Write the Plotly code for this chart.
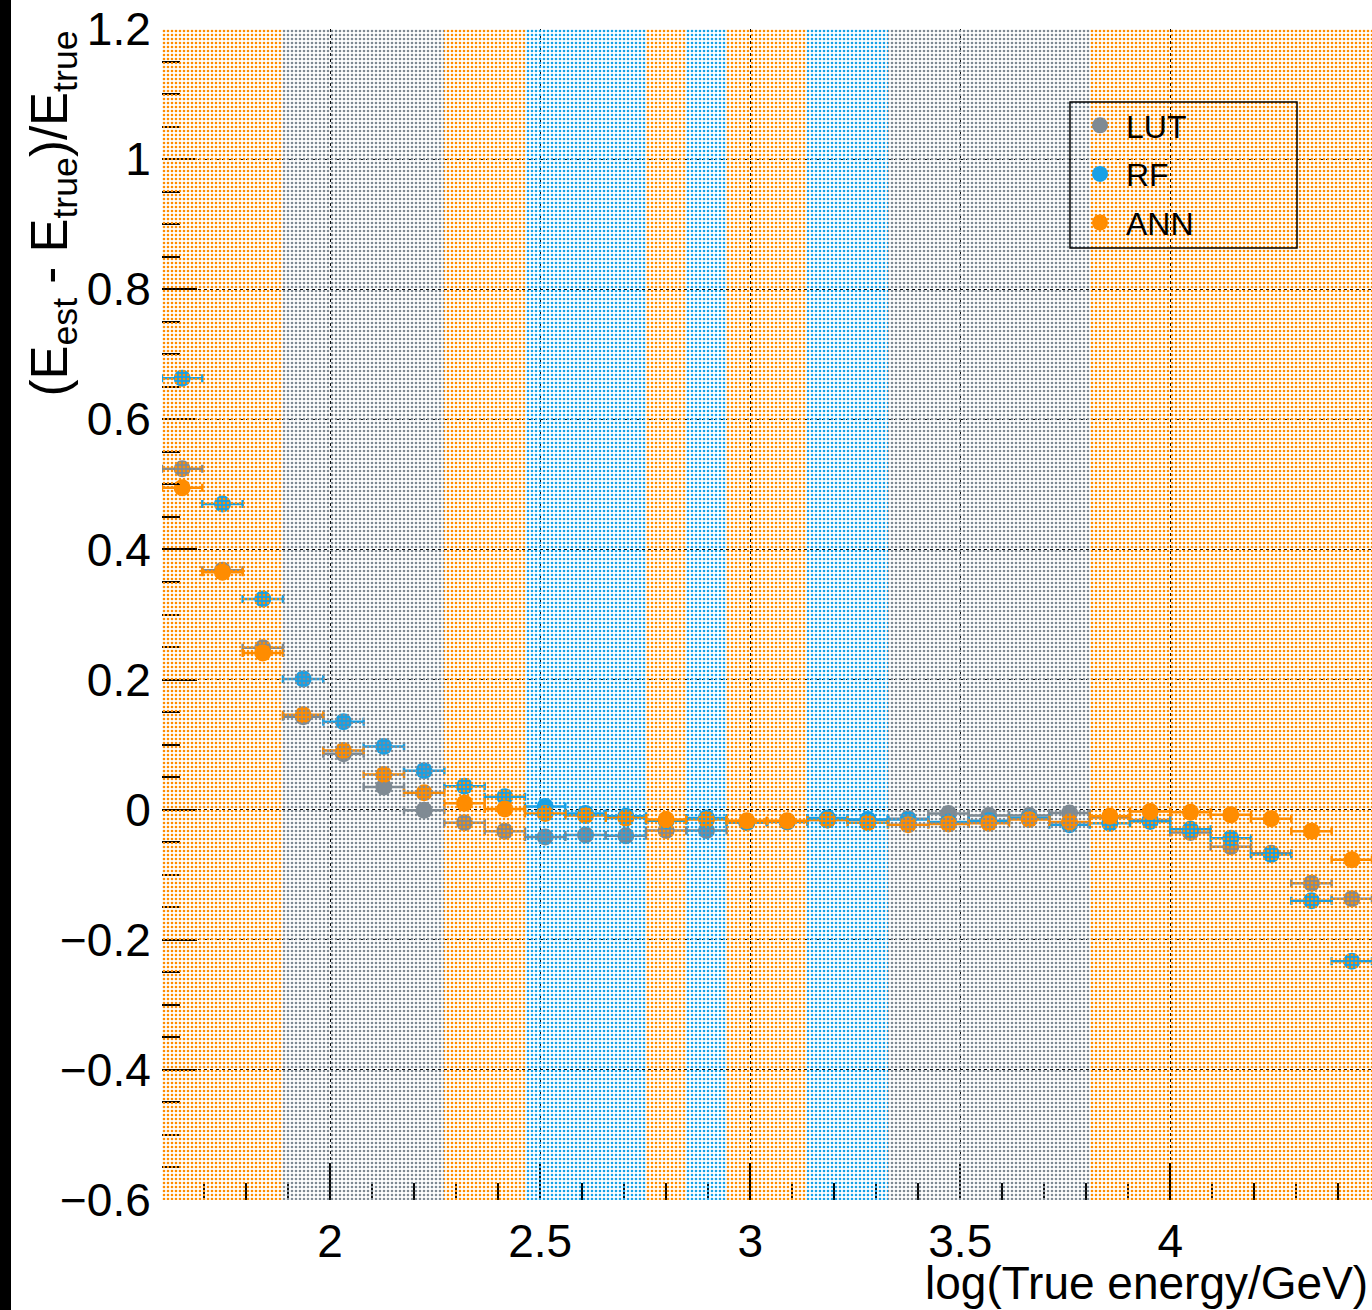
import plotly.graph_objects as go

# ---- data -------------------------------------------------------------
bin_centres = [1.648, 1.744, 1.840, 1.936, 2.032, 2.128, 2.224, 2.320, 2.416, 2.512,
               2.608, 2.704, 2.800, 2.896, 2.992, 3.088, 3.184, 3.280, 3.376, 3.472,
               3.568, 3.664, 3.760, 3.856, 3.952, 4.048, 4.144, 4.240, 4.336, 4.432]
bin_half_width = 0.048

lut = [0.524, 0.368, 0.249, 0.143, 0.086, 0.035, -0.001, -0.020, -0.033, -0.042,
       -0.039, -0.040, -0.032, -0.032, -0.020, -0.019, -0.016, -0.016, -0.014, -0.006,
       -0.009, -0.009, -0.005, -0.012, -0.016, -0.035, -0.057, -0.067, -0.113, -0.137]
rf = [0.663, 0.470, 0.324, 0.201, 0.135, 0.097, 0.060, 0.036, 0.020, 0.005,
      -0.006, -0.010, -0.017, -0.013, -0.019, -0.018, -0.013, -0.015, -0.015, -0.019,
      -0.017, -0.013, -0.023, -0.021, -0.018, -0.030, -0.044, -0.069, -0.140, -0.233]
ann = [0.495, 0.365, 0.241, 0.146, 0.091, 0.054, 0.026, 0.010, 0.001, -0.006,
       -0.009, -0.013, -0.015, -0.015, -0.017, -0.017, -0.016, -0.020, -0.023, -0.022,
       -0.021, -0.015, -0.019, -0.010, -0.003, -0.004, -0.008, -0.014, -0.033, -0.077]

# method shown as band colour in each bin
best_method = ["ANN", "ANN", "ANN", "LUT", "LUT", "LUT", "LUT", "ANN", "ANN", "RF",
               "RF", "RF", "ANN", "RF", "ANN", "ANN", "RF", "RF", "LUT", "LUT",
               "LUT", "LUT", "LUT", "ANN", "ANN", "ANN", "ANN", "ANN", "ANN", "ANN"]

series_names = ["LUT", "RF", "ANN"]
series_values = [lut, rf, ann]
colors = {"LUT": "#7f8a93", "RF": "#17a0e6", "ANN": "#ff8c00"}

x_range = [1.6, 4.48]
y_range = [-0.6, 1.2]

FONT = "Liberation Sans, Arial, Helvetica, sans-serif"

fig = go.Figure()

for name, vals in zip(series_names, series_values):
    fig.add_trace(go.Scatter(
        x=bin_centres, y=vals, mode="markers", name=name,
        legendgroup=name,
        marker=dict(color=colors[name], size=17, symbol="circle",
                    line=dict(width=0)),
        error_x=dict(type="constant", value=bin_half_width, color=colors[name],
                     thickness=2.5, width=4),
        zorder=0,
    ))

# dotted colour band overlay (drawn above markers)
fig.add_trace(go.Bar(
    x=bin_centres,
    y=[y_range[1] - y_range[0]] * len(bin_centres),
    base=y_range[0],
    width=bin_half_width * 2,
    marker=dict(
        color="rgba(0,0,0,0)",
        line=dict(width=0),
        pattern=dict(shape=".", fgcolor=[colors[m] for m in best_method],
                     bgcolor="rgba(0,0,0,0)", size=4, solidity=0.33,
                     fillmode="replace", fgopacity=1),
    ),
    showlegend=False, hoverinfo="skip", zorder=5,
))

fig.update_layout(
    width=1372, height=1310,
    margin=dict(l=162, r=0, t=29, b=110),
    paper_bgcolor="white", plot_bgcolor="white",
    font=dict(family=FONT, size=46, color="black"),
    bargap=0,
    showlegend=True,
    legend=dict(
        x=(1074 - 162) / 1210, y=(1200 - 98) / 1171,
        xanchor="left", yanchor="top",
        bgcolor="rgba(0,0,0,0)", borderwidth=0,
        font=dict(size=32, family=FONT),
        traceorder="grouped", tracegroupgap=4,
        itemwidth=42,
    ),
    xaxis=dict(
        range=x_range, tickmode="linear", tick0=0, dtick=0.5,
        ticks="inside", ticklen=37, tickwidth=1.5, tickcolor="black",
        minor=dict(ticks="inside", ticklen=17, dtick=0.1, tick0=0,
                   tickcolor="black", tickwidth=1.5, showgrid=False),
        showgrid=True, gridcolor="black", griddash="dot", gridwidth=1,
        showline=True, linecolor="black", linewidth=2, mirror=True,
        zeroline=False, tickfont=dict(size=46),
    ),
    yaxis=dict(
        range=[y_range[0] - 1e-6, y_range[1] + 1e-6], tickmode="linear",
        tick0=-0.6, dtick=0.2,
        ticks="inside", ticklen=35, tickwidth=1.5, tickcolor="black",
        minor=dict(ticks="inside", ticklen=18, dtick=0.05, tick0=0,
                   tickcolor="black", tickwidth=1.5, showgrid=False),
        showgrid=True, gridcolor="black", griddash="dot", gridwidth=1,
        showline=True, linecolor="black", linewidth=2,
        zeroline=False, tickfont=dict(size=46),
    ),
    shapes=[
        # black strip at left page edge
        dict(type="rect", xref="paper", yref="paper",
             x0=-162 / 1210, x1=(11 - 162) / 1210,
             y0=-110 / 1171, y1=1 + 29 / 1171,
             fillcolor="black", line=dict(width=0), layer="above"),
        # legend box
        dict(type="rect", xref="paper", yref="paper",
             x0=(1070 - 162) / 1210, x1=(1297 - 162) / 1210,
             y0=(1200 - 248) / 1171, y1=(1200 - 102) / 1171,
             fillcolor="rgba(0,0,0,0)", line=dict(color="black", width=1.5),
             layer="above"),
    ],
    annotations=[
        dict(text="(E<sub>est</sub> - E<sub>true</sub>)/E<sub>true</sub>",
             xref="paper", yref="paper",
             x=(18 - 162) / 1210, y=1.0, xanchor="left", yanchor="top",
             textangle=-90, showarrow=False, font=dict(size=51, family=FONT)),
        dict(text="log(True energy/GeV)", xref="paper", yref="paper",
             x=(1370 - 162) / 1210, y=-(1283 - 1200) / 1171,
             xanchor="right", yanchor="middle",
             showarrow=False, font=dict(size=46, family=FONT)),
    ],
)

fig.write_html("out.html")
